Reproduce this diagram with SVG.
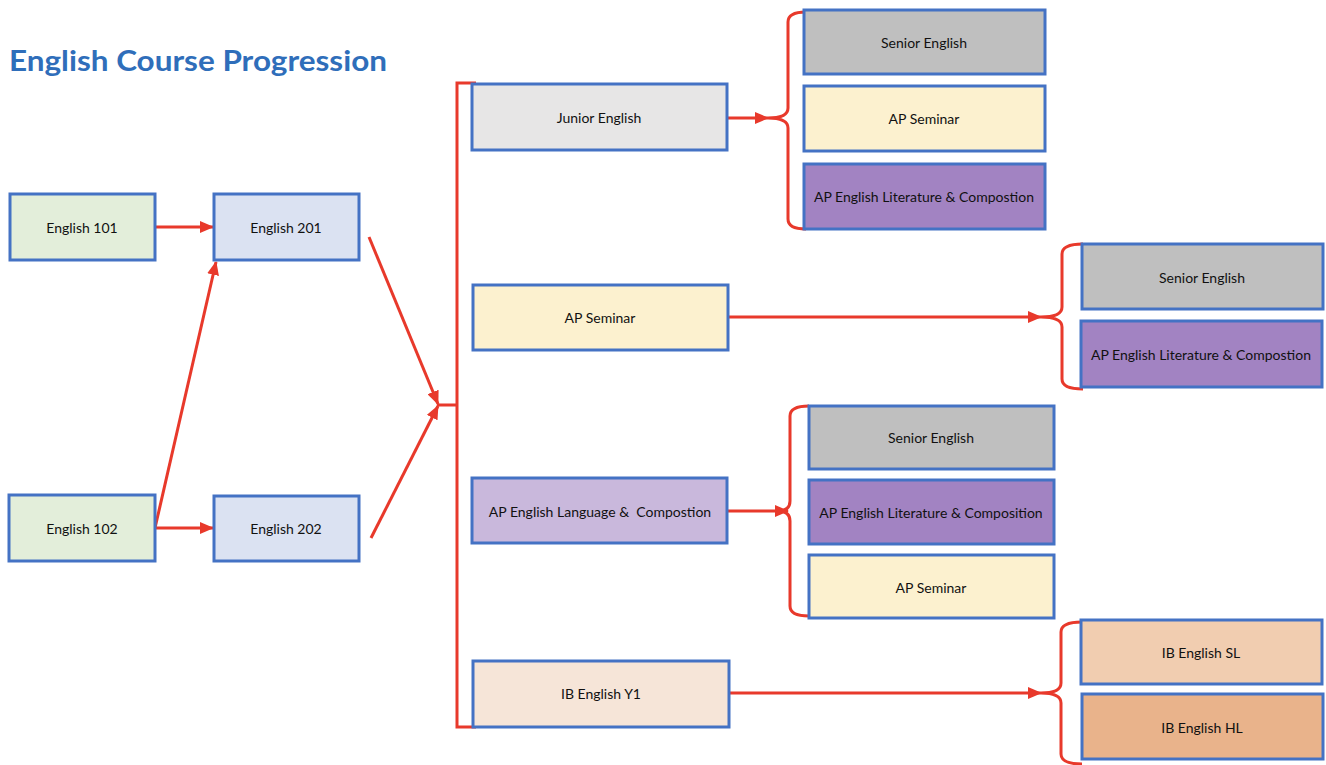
<svg xmlns="http://www.w3.org/2000/svg" width="1326" height="765" viewBox="0 0 1326 765">
<defs>
<style>
.box{stroke:#4472C4;stroke-width:3;}
.lbl{font-family:Lato,"Open Sans","Liberation Sans",sans-serif;font-size:14px;fill:#111;text-anchor:middle;dominant-baseline:central;}
.conn{stroke:#E8392B;stroke-width:3;fill:none;}
.title{font-family:Lato,"Open Sans","Liberation Sans",sans-serif;font-size:29px;font-weight:bold;fill:#2F6EBA;}
</style>
<marker id="ah" markerUnits="userSpaceOnUse" markerWidth="14" markerHeight="12" refX="13" refY="6" orient="auto">
<path d="M0,0 L14,6 L0,12 z" fill="#E8392B"/>
</marker>
</defs>
<rect width="1326" height="765" fill="#fff"/>
<text class="title" x="9" y="71" textLength="378" lengthAdjust="spacingAndGlyphs">English Course Progression</text>

<g id="connectors">
<line class="conn" x1="155" y1="227" x2="213" y2="227" marker-end="url(#ah)"/>
<line class="conn" x1="155" y1="528" x2="213" y2="528" marker-end="url(#ah)"/>
<line class="conn" x1="155" y1="528" x2="216" y2="262" marker-end="url(#ah)"/>
<line class="conn" x1="369" y1="237" x2="438" y2="404" marker-end="url(#ah)"/>
<line class="conn" x1="371" y1="538" x2="438" y2="406" marker-end="url(#ah)"/>
<path class="conn" d="M437,405 H457 M476,83 H457 V727 H476"/>
<line class="conn" x1="727" y1="118" x2="768" y2="118" marker-end="url(#ah)"/>
<path class="conn" d="M806,12 Q788,12 788,22 V108 Q788,118 768,118 Q788,118 788,128 V219 Q788,229 806,229"/>
<line class="conn" x1="728" y1="317" x2="1041" y2="317" marker-end="url(#ah)"/>
<path class="conn" d="M1083,244 Q1062,244 1062,254 V307 Q1062,317 1041,317 Q1062,317 1062,327 V379 Q1062,389 1083,389"/>
<line class="conn" x1="727" y1="511" x2="788" y2="511" marker-end="url(#ah)"/>
<path class="conn" d="M809,406 Q790,406 790,416 V501 Q790,511 778,511 Q790,511 790,521 V606 Q790,616 809,616"/>
<line class="conn" x1="729" y1="693" x2="1041" y2="693" marker-end="url(#ah)"/>
<path class="conn" d="M1082,622 Q1061,622 1061,632 V683 Q1061,693 1041,693 Q1061,693 1061,703 V754 Q1061,764 1082,764"/>
</g>

<g id="english101"><rect class="box" x="10" y="194" width="145" height="66" fill="#E3EEDA"/><text class="lbl" x="82" y="227">English 101</text></g>
<g id="english102"><rect class="box" x="9" y="495" width="146" height="66" fill="#E3EEDA"/><text class="lbl" x="82" y="528">English 102</text></g>
<g id="english201"><rect class="box" x="214" y="194" width="145" height="66" fill="#DBE2F2"/><text class="lbl" x="286" y="227">English 201</text></g>
<g id="english202"><rect class="box" x="214" y="496" width="145" height="65" fill="#DBE2F2"/><text class="lbl" x="286" y="528">English 202</text></g>

<g id="junior"><rect class="box" x="472" y="84" width="255" height="66" fill="#E7E6E6"/><text class="lbl" x="599" y="117">Junior English</text></g>
<g id="apseminar"><rect class="box" x="473" y="285" width="255" height="65" fill="#FCF1CF"/><text class="lbl" x="600" y="317">AP Seminar</text></g>
<g id="aplang"><rect class="box" x="472" y="478" width="255" height="65" fill="#C9B8DC"/><text class="lbl" x="600" y="511" xml:space="preserve">AP English Language &amp;  Compostion</text></g>
<g id="iby1"><rect class="box" x="473" y="661" width="256" height="66" fill="#F6E5D8"/><text class="lbl" x="601" y="693">IB English Y1</text></g>

<g id="g1senior"><rect class="box" x="804" y="10" width="241" height="64" fill="#BFBFBF"/><text class="lbl" x="924" y="42">Senior English</text></g>
<g id="g1apsem"><rect class="box" x="804" y="86" width="241" height="65" fill="#FCF1CF"/><text class="lbl" x="924" y="118">AP Seminar</text></g>
<g id="g1aplit"><rect class="box" x="804" y="164" width="241" height="65" fill="#A283C2"/><text class="lbl" x="924" y="196">AP English Literature &amp; Compostion</text></g>

<g id="g2senior"><rect class="box" x="1082" y="244" width="241" height="65" fill="#BFBFBF"/><text class="lbl" x="1202" y="277">Senior English</text></g>
<g id="g2aplit"><rect class="box" x="1081" y="321" width="241" height="66" fill="#A283C2"/><text class="lbl" x="1201" y="354">AP English Literature &amp; Compostion</text></g>

<g id="g3senior"><rect class="box" x="809" y="406" width="245" height="63" fill="#BFBFBF"/><text class="lbl" x="931" y="437">Senior English</text></g>
<g id="g3aplit"><rect class="box" x="809" y="480" width="245" height="64" fill="#A283C2"/><text class="lbl" x="931" y="512">AP English Literature &amp; Composition</text></g>
<g id="g3apsem"><rect class="box" x="809" y="555" width="245" height="63" fill="#FCF1CF"/><text class="lbl" x="931" y="587">AP Seminar</text></g>

<g id="ibsl"><rect class="box" x="1081" y="620" width="241" height="64" fill="#F1CDB0"/><text class="lbl" x="1201" y="652">IB English SL</text></g>
<g id="ibhl"><rect class="box" x="1082" y="694" width="241" height="65" fill="#E9B38B"/><text class="lbl" x="1202" y="727">IB English HL</text></g>
</svg>
